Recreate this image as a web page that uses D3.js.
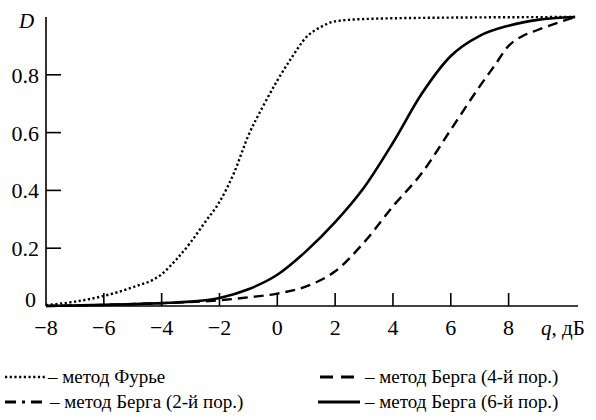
<!DOCTYPE html>
<html>
<head>
<meta charset="utf-8">
<script src="https://cdn.jsdelivr.net/npm/d3@7/dist/d3.min.js"></script>
</head>
<body style="margin:0">
<svg id="chart" width="596" height="420" style="font-family:'Liberation Serif'"></svg>
<script>
// Detection probability D versus signal-to-noise ratio q (dB)
const fourierQ = [-8, -7, -6, -5, -4, -3.5, -3, -2.5, -2, -1.5, -1, -0.5, 0, 0.5, 1, 1.5, 2, 3, 5, 10.3];
const fourierD = [0.003, 0.015, 0.035, 0.065, 0.11, 0.16, 0.22, 0.29, 0.36, 0.46, 0.59, 0.69, 0.78, 0.86, 0.93, 0.965, 0.985, 0.993, 0.997, 1.0];

const berg6Q = [-8, -6, -4, -3, -2, -1, 0, 1, 2, 3, 4, 5, 6, 7, 8, 9, 10.3];
const berg6D = [0.0, 0.004, 0.01, 0.015, 0.028, 0.058, 0.108, 0.19, 0.29, 0.41, 0.565, 0.735, 0.865, 0.935, 0.97, 0.99, 1.0];

const berg4Q = [-8, -6, -4, -2, -1, 0, 1, 2, 3, 4, 5, 6, 7, 7.5, 8, 8.5, 9, 10.3];
const berg4D = [0.0, 0.004, 0.01, 0.02, 0.03, 0.043, 0.068, 0.12, 0.22, 0.345, 0.46, 0.61, 0.76, 0.83, 0.9, 0.935, 0.955, 1.0];

const xTicks = [-8, -6, -4, -2, 0, 2, 4, 6, 8];
const yTicks = [0.2, 0.4, 0.6, 0.8];

const legendLabels = [
  "– метод Фурье",
  "– метод Берга (4-й пор.)",
  "– метод Берга (2-й пор.)",
  "– метод Берга (6-й пор.)"
];

const FONT = "Liberation Serif";

const svg = d3.select("#chart");

const x = d3.scaleLinear().domain([-8, 10.4]).range([46, 578]);
const y = d3.scaleLinear().domain([0, 1]).range([306, 17]);

const fmt = v => (v < 0 ? "\u2212" + Math.abs(v) : String(v));

// x axis labels, placed along the scale
svg.selectAll(".xlab").data(xTicks).enter().append("text")
  .attr("x", d => x(d)).attr("y", 335)
  .attr("text-anchor", "middle")
  .attr("font-size", 22)
  .style("font-family", `"${FONT}"`)
  .text(fmt);

// x axis line with inward ticks
svg.append("line")
  .attr("x1", x(-8)).attr("x2", x(10.4))
  .attr("y1", y(0)).attr("y2", y(0))
  .attr("stroke", "#000").attr("stroke-width", 1.6);

svg.selectAll(".xtick").data(xTicks.filter(d => d !== -8)).enter().append("line")
  .attr("x1", d => x(d)).attr("x2", d => x(d))
  .attr("y1", y(0)).attr("y2", y(0) - 13)
  .attr("stroke", "#000").attr("stroke-width", 1.6);

// y axis line with inward ticks
svg.append("line")
  .attr("x1", x(-8)).attr("x2", x(-8))
  .attr("y1", y(0)).attr("y2", y(1))
  .attr("stroke", "#000").attr("stroke-width", 1.6);

svg.selectAll(".ytick").data(yTicks).enter().append("line")
  .attr("x1", x(-8)).attr("x2", x(-8) + 15)
  .attr("y1", d => y(d)).attr("y2", d => y(d))
  .attr("stroke", "#000").attr("stroke-width", 1.6);

svg.selectAll(".ylab").data(yTicks).enter().append("text")
  .attr("x", x(-8) - 7).attr("y", d => y(d) + 8)
  .attr("text-anchor", "end")
  .attr("font-size", 22)
  .style("font-family", `"${FONT}"`)
  .text(d => d.toFixed(1));

svg.append("text")
  .attr("x", x(-8) - 10).attr("y", y(0) + 1)
  .attr("text-anchor", "end")
  .attr("font-size", 22)
  .style("font-family", `"${FONT}"`)
  .text("0");

svg.append("text")
  .attr("x", 19).attr("y", 28)
  .attr("font-size", 21)
  .style("font-family", `"${FONT}"`)
  .style("font-style", "italic")
  .text("D");

const qLabel = svg.append("text")
  .attr("x", 541).attr("y", 335)
  .attr("font-size", 21)
  .style("font-family", `"${FONT}"`);
qLabel.append("tspan").style("font-style", "italic").text("q");
qLabel.append("tspan").text(", дБ");

// curves
const line = d3.line()
  .x(d => x(d[0]))
  .y(d => y(d[1]))
  .curve(d3.curveMonotoneX);

const series = [
  { q: fourierQ, d: fourierD, dash: "2.2,2.5", width: 2.4 },
  { q: berg4Q, d: berg4D, dash: "10,6", width: 2.4 },
  { q: berg6Q, d: berg6D, dash: null, width: 2.6 }
];

series.forEach(s => {
  svg.append("path")
    .datum(s.q.map((q, i) => [q, s.d[i]]))
    .attr("d", line)
    .attr("fill", "none")
    .attr("stroke", "#000")
    .attr("stroke-width", s.width)
    .attr("stroke-dasharray", s.dash);
});

// legend
const legendItems = [
  { x0: 5, x1: 45, y: 377, dash: "2.2,2.5", width: 2.4, tx: 48 },
  { x0: 320, x1: 358, y: 377, dash: "13,8", width: 3, tx: 365 },
  { x0: 5, x1: 45, y: 402, dash: "11,6,3,6,11", width: 3, tx: 50 },
  { x0: 318, x1: 360, y: 402, dash: null, width: 3, tx: 365 }
];

legendItems.forEach((it, i) => {
  svg.append("line")
    .attr("x1", it.x0).attr("x2", it.x1)
    .attr("y1", it.y).attr("y2", it.y)
    .attr("stroke", "#000")
    .attr("stroke-width", it.width)
    .attr("stroke-dasharray", it.dash);
  svg.append("text")
    .attr("x", it.tx).attr("y", it.y + 6)
    .attr("font-size", 19)
    .style("font-family", `"${FONT}"`)
    .text(legendLabels[i]);
});
</script>
</body>
</html>
